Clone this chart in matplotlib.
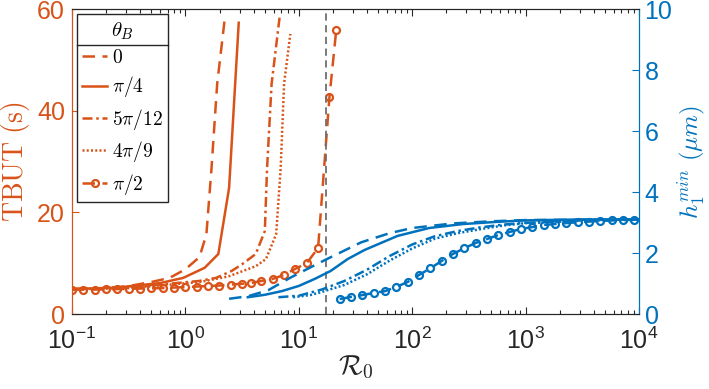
import numpy as np
import matplotlib
matplotlib.use("Agg")
import matplotlib.pyplot as plt
from matplotlib.lines import Line2D

plt.rcParams['font.family'] = ['Liberation Sans', 'DejaVu Sans']
plt.rcParams['mathtext.fontset'] = 'custom'
plt.rcParams['mathtext.rm'] = 'Liberation Sans'
plt.rcParams['mathtext.it'] = 'Liberation Sans:italic'
plt.rcParams['axes.unicode_minus'] = False

ORANGE = '#D95319'
BLUE = '#0072BD'
DARK = '#262626'

theta_labels = ['$0$', r'$\pi/4$', r'$5\pi/12$', r'$4\pi/9$', r'$\pi/2$']

# TBUT (s) vs log10(R0), left axis
tbut_exp_0 = [-1.0, -0.7, -0.5, -0.3, -0.14, 0.0, 0.124, 0.185, 0.23, 0.28, 0.35]
tbut_val_0 = [4.9, 5.1, 5.5, 6.3, 7.1, 8.8, 11.2, 15.7, 28.7, 45.3, 58.7]

tbut_exp_pi4 = [-1.0, -0.6, -0.22, -0.02, 0.17, 0.29, 0.385, 0.47]
tbut_val_pi4 = [4.9, 5.2, 6.1, 7.1, 9.1, 11.8, 24.8, 57.3]

tbut_exp_5pi12 = [-1.0, -0.5, 0.12, 0.27, 0.41, 0.50, 0.62, 0.70, 0.72, 0.76, 0.83]
tbut_val_5pi12 = [4.9, 5.2, 6.5, 7.1, 8.5, 9.8, 11.8, 16.3, 28.7, 45.3, 58.3]

tbut_exp_4pi9 = [-1.0, -0.5, 0.13, 0.38, 0.62, 0.71, 0.80, 0.84, 0.87, 0.925]
tbut_val_4pi9 = [4.9, 5.1, 6.3, 7.4, 9.4, 10.8, 15.7, 28.7, 45.3, 55.1]

tbut_exp_pi2 = [-1.0, -0.9, -0.8, -0.7, -0.6, -0.5, -0.4, -0.3, -0.2, -0.1,
                0.0, 0.1, 0.2, 0.3, 0.4, 0.5, 0.58, 0.67, 0.77, 0.87,
                0.97, 1.07, 1.17, 1.27, 1.33]
tbut_val_pi2 = [4.8, 4.8, 4.8, 4.85, 4.9, 4.95, 5.0, 5.05, 5.1, 5.2,
                5.3, 5.4, 5.5, 5.6, 5.8, 5.95, 6.1, 6.5, 6.9, 7.7,
                8.9, 10.0, 13.0, 42.7, 55.9]

# h1_min (um) vs log10(R0), right axis
h_exp_0 = [0.385, 0.55, 0.73, 0.93, 1.14, 1.28, 1.55, 1.8, 2.0, 2.36, 2.7, 3.0, 4.0]
h_val_0 = [0.5, 0.58, 0.78, 1.2, 1.6, 1.86, 2.35, 2.65, 2.82, 2.97, 3.04, 3.08, 3.1]

h_exp_pi4 = [0.55, 0.7, 0.85, 1.0, 1.14, 1.28, 1.43, 1.58, 1.87, 2.15, 2.45, 2.74, 3.0, 3.5, 4.0]
h_val_pi4 = [0.55, 0.63, 0.75, 0.92, 1.15, 1.41, 1.8, 2.1, 2.56, 2.82, 2.95, 3.02, 3.07, 3.1, 3.1]

h_exp_5pi12 = [0.82, 1.0, 1.2, 1.4, 1.6, 1.8, 2.0, 2.2, 2.4, 2.6, 2.8, 3.0, 3.5, 4.0]
h_val_5pi12 = [0.55, 0.6, 0.8, 1.08, 1.45, 1.9, 2.28, 2.55, 2.72, 2.84, 2.93, 2.99, 3.07, 3.1]

h_exp_4pi9 = [0.95, 1.1, 1.2, 1.4, 1.6, 1.8, 2.0, 2.2, 2.4, 2.6, 2.8, 3.0, 3.5, 4.0]
h_val_4pi9 = [0.55, 0.62, 0.72, 0.95, 1.3, 1.75, 2.15, 2.47, 2.65, 2.78, 2.9, 2.98, 3.06, 3.1]

h_exp_pi2 = [1.36, 1.46, 1.56, 1.66, 1.76, 1.86, 1.96, 2.06, 2.16, 2.26,
             2.36, 2.46, 2.56, 2.66, 2.76, 2.86, 2.96, 3.06, 3.16, 3.26,
             3.36, 3.46, 3.56, 3.66, 3.76, 3.86, 3.96]
h_val_pi2 = [0.49, 0.56, 0.62, 0.69, 0.75, 0.89, 1.05, 1.28, 1.5, 1.74,
             1.97, 2.16, 2.33, 2.46, 2.59, 2.69, 2.79, 2.85, 2.92, 2.95,
             2.98, 3.01, 3.03, 3.05, 3.07, 3.08, 3.09]

r0_marker = 17.3

styles = [dict(ls=(0, (5.0, 3.0))), dict(ls='-'), dict(ls=(0, (4.0, 1.5, 1.0, 1.5))),
          dict(ls=(0, (0.8, 0.9))),
          dict(ls=(0, (5.0, 3.0)), marker='o', ms=5, mfc='none', mew=1.6)]

tbut = [(tbut_exp_0, tbut_val_0), (tbut_exp_pi4, tbut_val_pi4), (tbut_exp_5pi12, tbut_val_5pi12),
        (tbut_exp_4pi9, tbut_val_4pi9), (tbut_exp_pi2, tbut_val_pi2)]
hmin = [(h_exp_0, h_val_0), (h_exp_pi4, h_val_pi4), (h_exp_5pi12, h_val_5pi12),
        (h_exp_4pi9, h_val_4pi9), (h_exp_pi2, h_val_pi2)]

fig = plt.figure(figsize=(7.09, 3.89), dpi=100)
ax = fig.add_axes([0.1016, 0.1928, 0.7997, 0.784])
ax2 = ax.twinx()

handles = []
for (e, v), st, lab in zip(tbut, styles, theta_labels):
    h, = ax.plot(10 ** np.array(e), v, color=ORANGE, lw=1.8, label=lab, **st)
    handles.append(h)
for (e, v), st in zip(hmin, styles):
    ax2.plot(10 ** np.array(e), v, color=BLUE, lw=1.8, **st)

ax.axvline(r0_marker, color='#707070', ls=(0, (4, 2.5)), lw=1.3)

ax.set_xscale('log')
ax.set_xlim(0.1, 1e4)
ax.set_ylim(0, 60)
ax.set_yticks([0, 20, 40, 60])
ax2.set_ylim(0, 10)
ax2.set_yticks([0, 2, 4, 6, 8, 10])

ax.tick_params(axis='x', which='both', direction='in', top=True, colors=DARK,
               labelsize=18, pad=10)
ax.tick_params(axis='x', which='major', length=5, width=0.8)
ax.tick_params(axis='x', which='minor', length=3, width=0.8)
ax.tick_params(axis='y', direction='in', colors=ORANGE, labelsize=18, length=5, pad=5)
ax2.tick_params(axis='y', direction='in', colors=BLUE, labelsize=18, length=5, pad=4)

for a in (ax, ax2):
    a.spines['left'].set_color(ORANGE)
    a.spines['right'].set_color(BLUE)
    a.spines['top'].set_color(DARK)
    a.spines['bottom'].set_color(DARK)

xl = ax.set_xlabel(r'$\mathcal{R}_0$', fontsize=20, color=DARK, labelpad=0)
yl = ax.set_ylabel(r'$\mathrm{TBUT\ (s)}$', fontsize=20, color=ORANGE, labelpad=4)
yr = ax2.set_ylabel(r'$h_1^{min}\ (\mu m)$', fontsize=18, color=BLUE, labelpad=2)
for t in (xl, yl, yr):
    t.set_math_fontfamily('cm')

leg = ax2.legend(handles=handles, loc='upper left', bbox_to_anchor=(0.008, 0.983),
                 borderaxespad=0, fontsize=14, title=r'$\theta_B$', title_fontsize=15,
                 fancybox=False, framealpha=1, edgecolor=DARK, handlelength=1.25,
                 handletextpad=0.25, labelspacing=0.38, borderpad=0.3, numpoints=1)
leg.get_frame().set_linewidth(1.0)
for t in leg.get_texts():
    t.set_math_fontfamily('cm')
leg.get_title().set_math_fontfamily('cm')

fig.canvas.draw()
r = fig.canvas.get_renderer()
fb = leg.get_frame().get_window_extent(r)
tb = leg.get_title().get_window_extent(r)
ysep = (tb.y0 - 3) / fig.bbox.height
fig.add_artist(Line2D([fb.x0 / fig.bbox.width, fb.x1 / fig.bbox.width], [ysep, ysep],
                      transform=fig.transFigure, color=DARK, lw=1.0))

fig.savefig('out.png', dpi=100)
